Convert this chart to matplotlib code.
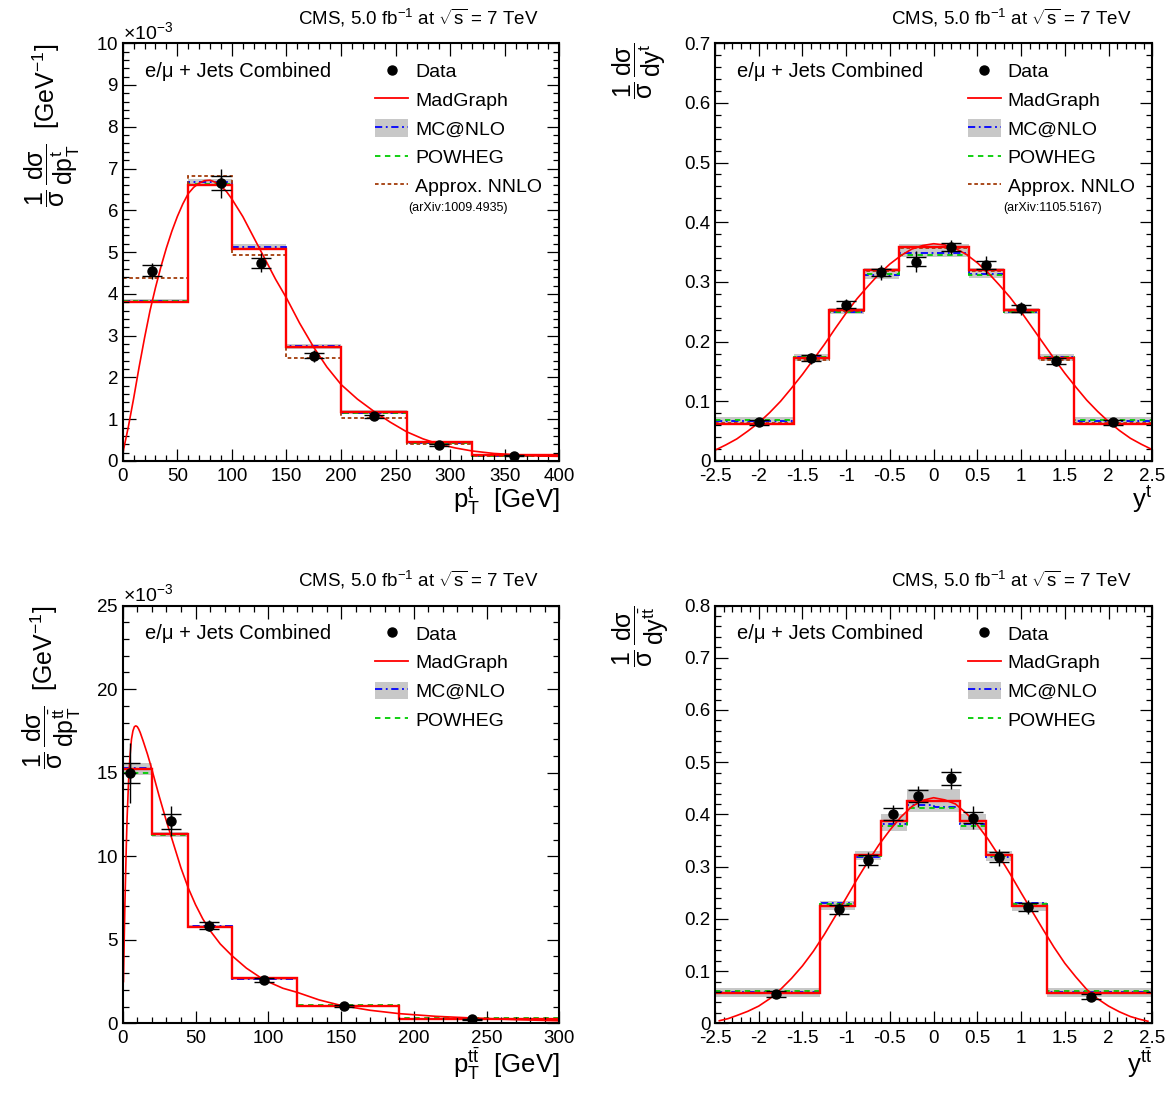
"""
Normalised differential ttbar cross sections (CMS, 7 TeV, l+jets) in four panels:
top pT, top rapidity, ttbar pT and ttbar rapidity, compared with MC and NNLO.
"""

import matplotlib
matplotlib.use("Agg")
import matplotlib.pyplot as plt
import numpy as np
from matplotlib.lines import Line2D
from matplotlib.patches import Patch
from matplotlib.ticker import FuncFormatter, MultipleLocator

plt.rcParams.update({
    "font.family": ["Liberation Sans", "DejaVu Sans"],
    "mathtext.fontset": "custom",
    "mathtext.rm": "Liberation Sans",
    "mathtext.it": "Liberation Sans:italic",
    "mathtext.bf": "Liberation Sans:bold",
    "mathtext.default": "regular",
    "axes.unicode_minus": False,
    "axes.linewidth": 1.5,
})

# ---- top-quark pT (values in units of 1e-3 GeV^-1) ----
PT_T_EDGES = [0, 60, 100, 150, 200, 260, 320, 400]
PT_T_DATA_X = [27, 90, 127, 175, 230, 290, 358]
PT_T_DATA = [4.55, 6.65, 4.75, 2.52, 1.07, 0.38, 0.13]
PT_T_STAT = [0.13, 0.16, 0.12, 0.06, 0.03, 0.02, 0.01]
PT_T_TOT = [0.20, 0.35, 0.22, 0.14, 0.06, 0.04, 0.02]
PT_T_MADGRAPH = [3.80, 6.60, 5.07, 2.73, 1.18, 0.45, 0.15]
PT_T_MCNLO = [3.83, 6.68, 5.13, 2.75, 1.16, 0.43, 0.13]
PT_T_MCNLO_LO = [3.78, 6.60, 5.05, 2.68, 1.12, 0.40, 0.11]
PT_T_MCNLO_HI = [3.88, 6.76, 5.20, 2.80, 1.22, 0.47, 0.16]
PT_T_POWHEG = [3.82, 6.62, 5.08, 2.72, 1.15, 0.42, 0.13]
PT_T_NNLO = [4.37, 6.82, 4.93, 2.47, 1.03, 0.40, 0.11]
PT_T_CURVE_X = [0, 5, 10, 15, 20, 25, 30, 35, 40, 45, 50, 55, 60, 65, 70, 75, 80, 85, 90, 95,
                100, 110, 120, 130, 140, 150, 162, 175, 187, 200, 215, 230, 245, 260, 275,
                290, 305, 320, 340, 360, 380, 400]
PT_T_CURVE = [0.18, 0.8, 1.5, 2.25, 2.95, 3.6, 4.15, 4.65, 5.1, 5.5, 5.85, 6.15, 6.4, 6.55,
              6.65, 6.71, 6.72, 6.67, 6.58, 6.45, 6.27, 5.85, 5.35, 4.85, 4.35, 3.9, 3.3,
              2.72, 2.25, 1.83, 1.48, 1.19, 0.93, 0.7, 0.53, 0.4, 0.31, 0.24, 0.18, 0.15,
              0.12, 0.11]

# ---- top-quark rapidity ----
Y_T_EDGES = [-2.5, -1.6, -1.2, -0.8, -0.4, 0.0, 0.4, 0.8, 1.2, 1.6, 2.5]
Y_T_DATA_X = [-2.0, -1.4, -1.0, -0.6, -0.2, 0.2, 0.6, 1.0, 1.4, 2.05]
Y_T_DATA = [0.065, 0.172, 0.262, 0.316, 0.334, 0.358, 0.328, 0.256, 0.168, 0.065]
Y_T_STAT = [0.004, 0.005, 0.006, 0.006, 0.008, 0.007, 0.007, 0.006, 0.005, 0.004]
Y_T_TOT = [0.006, 0.009, 0.010, 0.012, 0.017, 0.012, 0.015, 0.011, 0.009, 0.006]
Y_T_MADGRAPH = [0.062, 0.172, 0.253, 0.320, 0.358, 0.358, 0.320, 0.253, 0.172, 0.062]
Y_T_MCNLO = [0.067, 0.175, 0.250, 0.312, 0.348, 0.348, 0.313, 0.250, 0.175, 0.067]
Y_T_MCNLO_LO = [0.060, 0.168, 0.246, 0.305, 0.342, 0.342, 0.306, 0.246, 0.168, 0.060]
Y_T_MCNLO_HI = [0.073, 0.180, 0.256, 0.324, 0.364, 0.364, 0.324, 0.256, 0.180, 0.073]
Y_T_POWHEG = [0.069, 0.174, 0.250, 0.313, 0.345, 0.345, 0.312, 0.250, 0.174, 0.069]
Y_T_NNLO = [0.064, 0.170, 0.251, 0.318, 0.356, 0.356, 0.318, 0.251, 0.170, 0.064]
Y_T_CURVE_X = [-2.5, -2.375, -2.25, -2.125, -2.0, -1.875, -1.75, -1.625, -1.5, -1.375,
               -1.25, -1.125, -1.0, -0.875, -0.75, -0.625, -0.5, -0.375, -0.25, -0.125,
               0.0, 0.125, 0.25, 0.375, 0.5, 0.625, 0.75, 0.875, 1.0, 1.125, 1.25, 1.375,
               1.5, 1.625, 1.75, 1.875, 2.0, 2.125, 2.25, 2.375, 2.5]
Y_T_CURVE = [0.018, 0.027, 0.037, 0.050, 0.064, 0.081, 0.100, 0.122, 0.145, 0.170, 0.195,
             0.222, 0.248, 0.272, 0.293, 0.313, 0.330, 0.344, 0.355, 0.361, 0.364, 0.362,
             0.356, 0.346, 0.332, 0.315, 0.295, 0.274, 0.250, 0.224, 0.198, 0.172, 0.147,
             0.124, 0.102, 0.083, 0.066, 0.051, 0.038, 0.028, 0.019]

# ---- ttbar pT (values in units of 1e-3 GeV^-1) ----
PT_TT_EDGES = [0, 20, 45, 75, 120, 190, 300]
PT_TT_DATA_X = [5, 33, 59, 97, 152, 240]
PT_TT_DATA = [15.0, 12.1, 5.85, 2.6, 1.05, 0.25]
PT_TT_STAT = [0.6, 0.45, 0.2, 0.12, 0.05, 0.03]
PT_TT_TOT = [1.8, 0.9, 0.35, 0.22, 0.10, 0.05]
PT_TT_MADGRAPH = [15.2, 11.35, 5.75, 2.7, 1.05, 0.28]
PT_TT_MCNLO = [15.3, 11.3, 5.8, 2.68, 1.03, 0.25]
PT_TT_MCNLO_LO = [14.85, 11.15, 5.7, 2.62, 1.0, 0.22]
PT_TT_MCNLO_HI = [15.55, 11.45, 5.9, 2.75, 1.08, 0.30]
PT_TT_POWHEG = [15.0, 11.25, 5.75, 2.7, 1.07, 0.30]
PT_TT_CURVE_X = [0.5, 1, 1.5, 2, 2.5, 3, 4, 5, 6, 7, 8, 9, 10, 11, 12, 14, 17, 20, 25, 30, 35,
                 40, 45, 50, 55, 60, 67, 75, 85, 97, 110, 120, 135, 150, 170, 190, 215, 240,
                 270, 300]
PT_TT_CURVE = [2.5, 5.0, 7.2, 9.0, 10.8, 12.3, 14.5, 16.0, 17.0, 17.5, 17.75, 17.8, 17.75,
               17.6, 17.4, 16.9, 16.1, 15.2, 13.6, 12.1, 10.7, 9.3, 8.1, 7.1, 6.25, 5.55,
               4.75, 4.05, 3.3, 2.6, 2.1, 1.85, 1.4, 1.07, 0.78, 0.58, 0.42, 0.32, 0.22, 0.15]

# ---- ttbar rapidity ----
Y_TT_EDGES = [-2.5, -1.3, -0.9, -0.6, -0.3, 0.0, 0.3, 0.6, 0.9, 1.3, 2.5]
Y_TT_DATA_X = [-1.8, -1.08, -0.75, -0.46, -0.18, 0.2, 0.45, 0.75, 1.08, 1.8]
Y_TT_DATA = [0.056, 0.218, 0.313, 0.401, 0.435, 0.469, 0.394, 0.318, 0.223, 0.051]
Y_TT_STAT = [0.005, 0.008, 0.010, 0.011, 0.012, 0.012, 0.011, 0.010, 0.008, 0.005]
Y_TT_TOT = [0.007, 0.013, 0.016, 0.018, 0.020, 0.020, 0.022, 0.016, 0.013, 0.007]
Y_TT_MADGRAPH = [0.058, 0.225, 0.322, 0.388, 0.425, 0.425, 0.388, 0.322, 0.225, 0.058]
Y_TT_MCNLO = [0.060, 0.230, 0.318, 0.381, 0.418, 0.414, 0.381, 0.318, 0.230, 0.060]
Y_TT_MCNLO_LO = [0.050, 0.217, 0.312, 0.368, 0.405, 0.405, 0.370, 0.310, 0.215, 0.050]
Y_TT_MCNLO_HI = [0.068, 0.235, 0.330, 0.400, 0.448, 0.448, 0.400, 0.330, 0.233, 0.068]
Y_TT_POWHEG = [0.062, 0.228, 0.320, 0.378, 0.412, 0.412, 0.378, 0.320, 0.228, 0.062]
Y_TT_CURVE_X = [-2.45, -2.35, -2.25, -2.125, -2.0, -1.875, -1.75, -1.625, -1.5, -1.375,
                -1.25, -1.125, -1.0, -0.875, -0.75, -0.625, -0.5, -0.375, -0.25, -0.125,
                0.0, 0.125, 0.25, 0.375, 0.5, 0.625, 0.75, 0.875, 1.0, 1.125, 1.25, 1.375,
                1.5, 1.625, 1.75, 1.875, 2.0, 2.125, 2.25, 2.35, 2.45]
Y_TT_CURVE = [0.005, 0.009, 0.015, 0.023, 0.033, 0.047, 0.065, 0.086, 0.110, 0.138, 0.170,
              0.205, 0.240, 0.276, 0.310, 0.342, 0.370, 0.395, 0.415, 0.427, 0.432, 0.428,
              0.420, 0.402, 0.380, 0.352, 0.320, 0.286, 0.250, 0.215, 0.180, 0.146, 0.115,
              0.089, 0.065, 0.047, 0.033, 0.022, 0.013, 0.008, 0.004]

RED = "#ff0000"
BLUE = "#0000ff"
GREEN = "#00cc00"
BROWN = "#a33c0a"
GRAY = "#c8c8c8"
DASHDOT = (0, (4, 2, 1, 2))
DASHED = (0, (3, 2.5))
DOTTED = (0, (2, 1.5))

CMS_LABEL = r"CMS, 5.0 fb$^{-1}$ at $\sqrt{s}$ = 7 TeV"


def draw_panel(ax, edges, data_x, data, stat, tot, madgraph, mcnlo, mc_lo, mc_hi,
               powheg, nnlo, curve_x, curve, scale):
    e = np.asarray(edges, dtype=float)
    s = scale
    ax.stairs(np.asarray(mc_hi) * s, e, baseline=np.asarray(mc_lo) * s, fill=True,
              color=GRAY, lw=0)
    ax.stairs(np.asarray(mcnlo) * s, e, baseline=None, color=BLUE, lw=1.3, ls=DASHDOT)
    ax.stairs(np.asarray(powheg) * s, e, baseline=None, color=GREEN, lw=1.3, ls=DASHED)
    if nnlo is not None:
        ax.stairs(np.asarray(nnlo) * s, e, baseline=None, color=BROWN, lw=1.3, ls=DOTTED)
    ax.stairs(np.asarray(madgraph) * s, e, baseline=None, color=RED, lw=1.7)
    ax.plot(curve_x, np.asarray(curve) * s, color=RED, lw=1.2)

    y = np.asarray(data) * s
    ax.errorbar(data_x, y, yerr=np.asarray(tot) * s, fmt="none", ecolor="k", elinewidth=1.0)
    ax.errorbar(data_x, y, yerr=np.asarray(stat) * s, fmt="o", color="k", ms=6.5,
                elinewidth=1.0, capsize=7, capthick=1.0, zorder=5)

    handles = [
        Line2D([], [], marker="o", ls="none", color="k", ms=6.5),
        Line2D([], [], color=RED, lw=1.3),
        (Patch(facecolor=GRAY, edgecolor="none"), Line2D([], [], color=BLUE, lw=1.3, ls=DASHDOT)),
        Line2D([], [], color=GREEN, lw=1.3, ls=DASHED),
    ]
    labels = ["Data", "MadGraph", "MC@NLO", "POWHEG"]
    if nnlo is not None:
        handles.append(Line2D([], [], color=BROWN, lw=1.3, ls=DOTTED))
        labels.append("Approx. NNLO")
    ax.legend(handles, labels, loc="upper left", bbox_to_anchor=(0.578, 0.955),
              frameon=False, fontsize=14, handlelength=1.7, handletextpad=0.36,
              labelspacing=0.48, borderpad=0, borderaxespad=0, handleheight=1.0,
              numpoints=1)

    ax.text(0.051, 0.933, "e/\u03bc + Jets Combined", transform=ax.transAxes,
            va="center", ha="left", fontsize=14.5)
    ax.text(0.953, 1.045, CMS_LABEL, transform=ax.transAxes, ha="right",
            va="baseline", fontsize=13.5)

    ax.set_xlim(e[0], e[-1])
    ax.tick_params(which="both", direction="in", top=True, right=True, width=0.9,
                   labelsize=13.5)
    ax.tick_params(which="major", length=9)
    ax.tick_params(which="minor", length=4.5)
    ax.tick_params(axis="x", pad=5)
    ax.tick_params(axis="y", pad=3)


fig = plt.figure(figsize=(11.69, 10.96), dpi=100)
ax_tl = fig.add_axes([0.1050, 0.5794, 0.3735, 0.3812])
ax_tr = fig.add_axes([0.6116, 0.5794, 0.3741, 0.3812])
ax_bl = fig.add_axes([0.1050, 0.0663, 0.3735, 0.3812])
ax_br = fig.add_axes([0.6116, 0.0663, 0.3741, 0.3812])

draw_panel(ax_tl, PT_T_EDGES, PT_T_DATA_X, PT_T_DATA, PT_T_STAT, PT_T_TOT, PT_T_MADGRAPH,
           PT_T_MCNLO, PT_T_MCNLO_LO, PT_T_MCNLO_HI, PT_T_POWHEG, PT_T_NNLO,
           PT_T_CURVE_X, PT_T_CURVE, 1e-3)
draw_panel(ax_tr, Y_T_EDGES, Y_T_DATA_X, Y_T_DATA, Y_T_STAT, Y_T_TOT, Y_T_MADGRAPH,
           Y_T_MCNLO, Y_T_MCNLO_LO, Y_T_MCNLO_HI, Y_T_POWHEG, Y_T_NNLO,
           Y_T_CURVE_X, Y_T_CURVE, 1.0)
draw_panel(ax_bl, PT_TT_EDGES, PT_TT_DATA_X, PT_TT_DATA, PT_TT_STAT, PT_TT_TOT, PT_TT_MADGRAPH,
           PT_TT_MCNLO, PT_TT_MCNLO_LO, PT_TT_MCNLO_HI, PT_TT_POWHEG, None,
           PT_TT_CURVE_X, PT_TT_CURVE, 1e-3)
draw_panel(ax_br, Y_TT_EDGES, Y_TT_DATA_X, Y_TT_DATA, Y_TT_STAT, Y_TT_TOT, Y_TT_MADGRAPH,
           Y_TT_MCNLO, Y_TT_MCNLO_LO, Y_TT_MCNLO_HI, Y_TT_POWHEG, None,
           Y_TT_CURVE_X, Y_TT_CURVE, 1.0)

ax_tl.text(0.768, 0.605, "(arXiv:1009.4935)", transform=ax_tl.transAxes, ha="center",
           va="center", fontsize=9)
ax_tr.text(0.773, 0.605, "(arXiv:1105.5167)", transform=ax_tr.transAxes, ha="center",
           va="center", fontsize=9)

gfmt = FuncFormatter(lambda v, pos: f"{v:g}")

# pT panels: scaled y axis with x10^-3 offset
for ax, ymax, ymaj, ymin in [(ax_tl, 0.010, 0.001, 0.0002), (ax_bl, 0.025, 0.005, 0.001)]:
    ax.set_ylim(0, ymax)
    ax.yaxis.set_major_locator(MultipleLocator(ymaj))
    ax.yaxis.set_minor_locator(MultipleLocator(ymin))
    ax.ticklabel_format(axis="y", style="sci", scilimits=(-3, -3), useMathText=True)
    ax.yaxis.get_offset_text().set_fontsize(14)
    ax.xaxis.set_major_locator(MultipleLocator(50))
    ax.xaxis.set_minor_locator(MultipleLocator(10))
    ax.xaxis.set_major_formatter(gfmt)

for ax, ymax in [(ax_tr, 0.7), (ax_br, 0.8)]:
    ax.set_ylim(0, ymax)
    ax.yaxis.set_major_locator(MultipleLocator(0.1))
    ax.yaxis.set_minor_locator(MultipleLocator(0.02))
    ax.yaxis.set_major_formatter(gfmt)
    ax.xaxis.set_major_locator(MultipleLocator(0.5))
    ax.xaxis.set_minor_locator(MultipleLocator(0.1))
    ax.xaxis.set_major_formatter(gfmt)

xlabels = {
    ax_tl: r"$p_{T}^{t}$  [GeV]",
    ax_tr: r"$y^{t}$",
    ax_bl: r"$p_{T}^{t\bar{t}}$  [GeV]",
    ax_br: r"$y^{t\bar{t}}$",
}
ylabels = {
    ax_tl: r"$\dfrac{1}{\sigma}\,\dfrac{d\sigma}{dp_{T}^{t}}$  [GeV$^{-1}$]",
    ax_tr: r"$\dfrac{1}{\sigma}\,\dfrac{d\sigma}{dy^{t}}$",
    ax_bl: r"$\dfrac{1}{\sigma}\,\dfrac{d\sigma}{dp_{T}^{t\bar{t}}}$  [GeV$^{-1}$]",
    ax_br: r"$\dfrac{1}{\sigma}\,\dfrac{d\sigma}{dy^{t\bar{t}}}$",
}
ylabel_x = {ax_tl: -0.093, ax_tr: -0.107, ax_bl: -0.09, ax_br: -0.10}
for ax in (ax_tl, ax_tr, ax_bl, ax_br):
    ax.set_xlabel(xlabels[ax], fontsize=18.5, loc="right")
    ax.xaxis.set_label_coords(1.0, -0.055)
    ax.set_ylabel(ylabels[ax], fontsize=18, loc="top")
    ax.yaxis.set_label_coords(ylabel_x[ax], 1.0)

fig.savefig("out.png", dpi=100)
plt.close(fig)
